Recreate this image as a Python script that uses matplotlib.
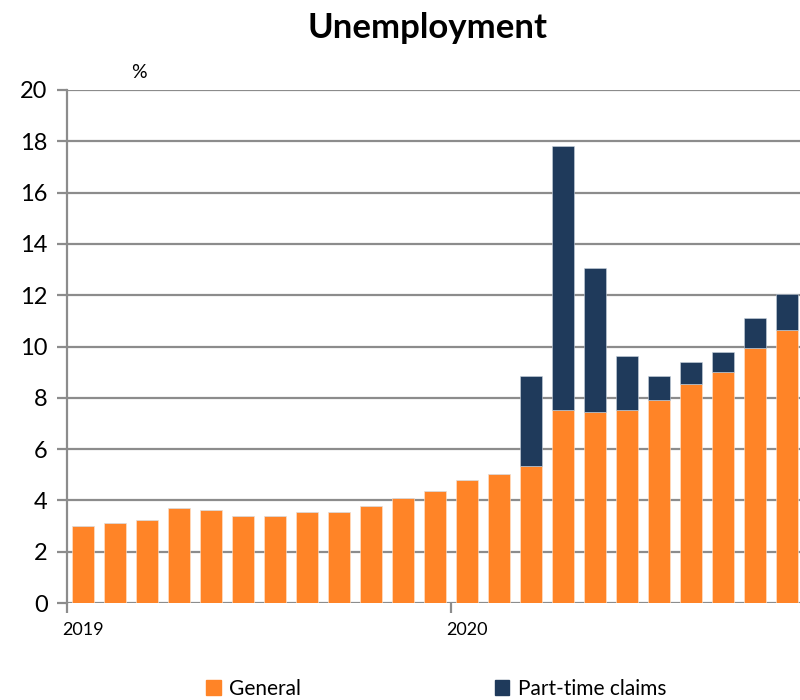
import numpy as np
import matplotlib.pyplot as plt
from matplotlib.patches import Patch

plt.rcParams['font.family'] = ['Lato', 'DejaVu Sans']

months = ['2019-01', '2019-02', '2019-03', '2019-04', '2019-05', '2019-06',
          '2019-07', '2019-08', '2019-09', '2019-10', '2019-11', '2019-12',
          '2020-01', '2020-02', '2020-03', '2020-04', '2020-05', '2020-06',
          '2020-07', '2020-08', '2020-09', '2020-10', '2020-11']
general = [3.0, 3.1, 3.25, 3.7, 3.63, 3.4, 3.4, 3.55, 3.55, 3.8, 4.1, 4.35,
           4.8, 5.03, 5.35, 7.54, 7.46, 7.54, 7.93, 8.54, 9.01, 9.95, 10.64]
# totals (general + part-time claims)
total = [3.0, 3.1, 3.25, 3.7, 3.63, 3.4, 3.4, 3.55, 3.55, 3.8, 4.1, 4.35,
         4.8, 5.03, 8.84, 17.82, 13.07, 9.62, 8.84, 9.4, 9.79, 11.1, 12.04]
part_time = [t - g for t, g in zip(total, general)]
years = ['2019', '2020']

orange = '#FF8427'
navy = '#1F3A5B'
grid = '#8C8C8C'

fig = plt.figure(figsize=(8, 7), dpi=100)
ax = fig.add_axes([67/800, 1 - 603/700, 1 - 67/800, (603 - 90)/700])

x = np.arange(len(months))
ax.bar(x, general, width=0.69, color=orange, edgecolor='#FFE6D0', linewidth=0.4, zorder=3)
ax.bar(x, part_time, bottom=general, width=0.69, color=navy, edgecolor='#C9D3DE',
       linewidth=0.4, zorder=3)

ax.set_xlim(-0.5, 22.41)
ax.set_ylim(0, 20)
ax.set_yticks(range(0, 21, 2))
ax.yaxis.grid(True, color=grid, linewidth=1.6, zorder=0)
ax.set_axisbelow(True)
for s in ['top', 'right', 'bottom']:
    ax.spines[s].set_visible(False)
ax.spines['left'].set_color(grid)
ax.spines['left'].set_linewidth(1.6)
ax.tick_params(axis='y', colors=grid, width=1.6, length=7, labelsize=17,
               labelcolor='black', pad=7)

# year ticks at year boundaries, labels centred on first month
ax.set_xticks([-0.5, 11.5])
ax.set_xticklabels([])
ax.tick_params(axis='x', colors=grid, width=1.6, length=7)
for i, yr in enumerate(years):
    ax.text(i * 12, -0.75, yr, ha='center', va='top', fontsize=13)

ax.text(1.75, 20.35, '%', ha='center', va='bottom', fontsize=14)
fig.text(0.535, 0.96, 'Unemployment', ha='center', va='center',
         fontsize=25, fontweight='bold')

handles = [Patch(color=orange, label='General'),
           Patch(color=navy, label='Part-time claims')]
fig.legend(handles=handles, loc='center', bbox_to_anchor=(0.545, 0.016), ncol=2,
           frameon=False, fontsize=15, handlelength=0.7, handleheight=0.7,
           handletextpad=0.4, columnspacing=9.3)

fig.savefig('out.png', dpi=100)
